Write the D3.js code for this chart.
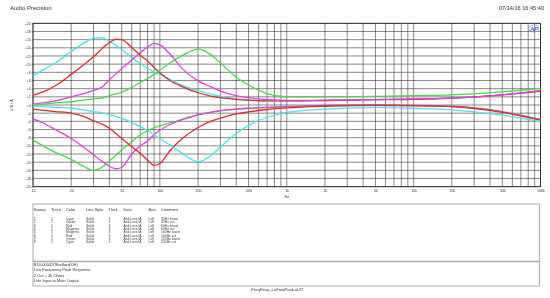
<!DOCTYPE html>
<html>
<head>
<meta charset="utf-8">
<script src="https://cdn.jsdelivr.net/npm/d3@7"></script>
<style>
body { margin: 0; background: #fff; }
svg { display: block; font-family: "Liberation Sans", Arial, sans-serif; }
</style>
</head>
<body>
<svg id="chart" width="550" height="298"></svg>
<script>
// frequencies (Hz) shared by every sweep
const freqs = [10, 12, 15, 20, 25, 30, 35, 40, 45, 50, 60, 70, 80, 90, 100, 120, 150, 200, 250, 300, 400, 500, 700, 1000, 2000, 5000, 10000, 20000, 50000, 100000];

// level in dBrA
const sweep1 = [7.1, 8.6, 10.3, 13.1, 15.1, 16.3, 16.5, 15.6, 14.6, 13.6, 11.6, 10.1, 9.0, 8.1, 7.5, 6.3, 4.8, 3.5, 2.7, 2.1, 1.5, 1.2, 1.0, 1.0, 1.1, 1.3, 1.5, 1.7, 2.5, 3.4];
const sweep2 = [-8.6, -10.0, -11.6, -13.3, -15.0, -16.0, -15.2, -13.7, -12.3, -11.0, -9.0, -7.3, -6.3, -5.6, -5.1, -4.4, -3.6, -2.4, -1.8, -1.4, -1.0, -0.8, -0.6, -0.4, -0.1, 0.0, -0.1, -0.3, -1.6, -3.5];
const sweep3 = [2.4, 3.2, 4.7, 7.5, 9.8, 11.8, 13.8, 15.3, 16.1, 16.0, 14.1, 12.2, 10.8, 9.2, 7.9, 6.0, 4.5, 3.0, 2.2, 1.8, 1.4, 1.2, 1.0, 1.0, 1.1, 1.3, 1.4, 1.7, 2.5, 3.4];
const sweep4 = [-3.4, -4.4, -6.0, -8.2, -10.3, -12.2, -13.8, -15.0, -15.6, -15.3, -12.0, -10.0, -8.8, -7.3, -6.2, -4.8, -3.5, -2.4, -1.8, -1.4, -1.0, -0.8, -0.6, -0.4, -0.1, 0.0, -0.1, -0.3, -1.7, -3.6];
const sweep5 = [0.2, 0.5, 1.0, 2.0, 2.8, 3.6, 4.4, 6.2, 7.6, 8.9, 11.0, 12.8, 14.2, 15.1, 14.7, 12.5, 8.9, 5.9, 4.5, 3.4, 2.3, 1.8, 1.3, 1.1, 1.2, 1.3, 1.5, 1.7, 2.5, 3.5];
const sweep6 = [-1.0, -1.3, -1.6, -2.0, -2.8, -3.9, -4.7, -5.7, -7.0, -8.2, -10.2, -11.8, -13.5, -14.8, -14.3, -11.2, -8.2, -5.5, -4.0, -3.2, -2.2, -1.7, -1.1, -0.7, -0.3, -0.1, -0.2, -0.4, -1.8, -3.7];
const sweep7 = [0.0, 0.2, 0.5, 0.8, 1.2, 1.5, 1.7, 2.3, 2.7, 3.1, 4.3, 5.5, 6.5, 7.5, 8.5, 10.3, 12.1, 13.7, 12.4, 10.3, 6.8, 4.9, 2.8, 2.0, 2.0, 2.1, 2.3, 2.5, 3.2, 4.1];
const sweep8 = [-0.2, -0.4, -0.6, -0.8, -1.2, -1.6, -1.9, -2.4, -2.8, -3.2, -4.3, -5.3, -6.3, -7.3, -8.2, -9.8, -11.8, -13.9, -12.5, -10.3, -7.0, -5.0, -3.0, -1.8, -1.0, -0.6, -0.8, -1.2, -2.5, -4.1];

const sweeps = [sweep1, sweep2, sweep3, sweep4, sweep5, sweep6, sweep7, sweep8];

// legend table
const sweepIds = ["1", "2", "3", "4", "5", "6", "7", "8"];
const traceIds = ["1", "1", "1", "1", "1", "1", "1", "1"];
const colorNames = ["Cyan", "Green", "Red", "Magenta", "Magenta", "Red", "Green", "Cyan"];
const comments = ["35Hz boost", "35Hz cut", "60Hz boost", "60Hz cut", "100Hz boost", "100Hz cut", "220Hz boost", "220Hz cut"];
const tableHeaders = ["Sweep", "Trace", "Color", "Line Style", "Thick", "Data", "Axis", "Comment"];
const notes = ["B10-00042(Shelford/CH)", "Low Frequency Peak Response", "2 Out + 4k Ohms", "Line Input to Main Output"];

// axis ticks
const yTicks = d3.range(-20, 21, 2);
const xTickLabels = [10, 20, 50, 100, 200, 500, 1000, 2000, 5000, 10000, 20000, 50000, 100000];

const palette = {
    Cyan: "#3fe6ee",
    Green: "#45dc45",
    Red: "#e02a2a",
    Magenta: "#e63ce6"
};

const svg = d3.select("#chart");
const margin = { left: 33, right: 540.5, top: 23.3, bottom: 186.7 };

// tiny text gets colour fringes otherwise
svg.append("defs").append("filter").attr("id", "gray")
    .append("feColorMatrix").attr("type", "saturate").attr("values", 0);

const x = d3.scaleLog().domain([10, 100000]).range([margin.left, margin.right]);
const y = d3.scaleLinear().domain([-20, 20]).range([margin.bottom, margin.top]);

const labels = svg.append("g").attr("filter", "url(#gray)");

// header texts
labels.append("text").attr("x", 10).attr("y", 9.5)
    .style("font-size", "6px").style("fill", "#333").text("Audio Precision");
labels.append("text").attr("x", 544).attr("y", 9.5).attr("text-anchor", "end")
    .style("font-size", "5.6px").style("fill", "#333").text("07/14/16 16:45:40");

// grid
const vLines = [];
[10, 100, 1000, 10000].forEach(d => {
    for (let k = 1; k < 10; k++) vLines.push(d * k);
});
vLines.push(100000);

const grid = svg.append("g");
grid.selectAll("line.v")
    .data(vLines)
    .enter()
    .append("line")
    .attr("x1", d => x(d)).attr("x2", d => x(d))
    .attr("y1", margin.top).attr("y2", margin.bottom)
    .attr("stroke", "#3a3a3a").attr("stroke-width", 0.6);

grid.selectAll("line.h")
    .data(yTicks)
    .enter()
    .append("line")
    .attr("x1", margin.left).attr("x2", margin.right)
    .attr("y1", d => y(d)).attr("y2", d => y(d))
    .attr("stroke", "#3a3a3a").attr("stroke-width", 0.6);

svg.append("rect")
    .attr("x", margin.left).attr("y", margin.top)
    .attr("width", margin.right - margin.left).attr("height", margin.bottom - margin.top)
    .attr("fill", "none").attr("stroke", "#222").attr("stroke-width", 0.8);

// axes
const yAxis = labels.append("g")
    .attr("transform", `translate(${margin.left},0)`)
    .call(d3.axisLeft(y).tickValues(yTicks).tickSize(1.5).tickPadding(0.8)
        .tickFormat(d => (d >= 0 ? "+" : "") + d));
yAxis.select(".domain").remove();
yAxis.selectAll("text").style("font-size", "3.4px").style("fill", "#333").attr("font-family", null);
yAxis.selectAll("line").attr("stroke", "#333").attr("stroke-width", 0.5);

const fmtHz = d => d >= 1000 ? (d / 1000) + "k" : String(d);
const xAxis = labels.append("g")
    .attr("transform", `translate(0,${margin.bottom})`)
    .call(d3.axisBottom(x).tickValues(xTickLabels).tickSize(0).tickPadding(2.5).tickFormat(fmtHz));
xAxis.select(".domain").remove();
xAxis.selectAll("text").style("font-size", "3.6px").style("fill", "#333").attr("font-family", null);

labels.append("text").attr("x", x(1000)).attr("y", 198).attr("text-anchor", "middle")
    .style("font-size", "3.8px").style("fill", "#333").text("Hz");
labels.append("text")
    .attr("transform", `translate(13,${y(0)}) rotate(-90)`)
    .attr("text-anchor", "middle")
    .style("font-size", "3.8px").style("fill", "#333").text("d B r A");

// AP logo
const logo = svg.append("g").attr("transform", "translate(534,28.5)");
logo.append("ellipse").attr("rx", 5).attr("ry", 3.6)
    .attr("fill", "none").attr("stroke", "#7a9bd6").attr("stroke-width", 0.6);
logo.append("text").attr("text-anchor", "middle").attr("y", 2)
    .style("font-size", "5.5px").style("font-style", "italic").style("font-weight", 700)
    .style("fill", "#3b69b8").text("AP");

// curves
const line = d3.line()
    .x((d, i) => x(freqs[i]))
    .y(d => y(d))
    .curve(d3.curveMonotoneX);

svg.append("g")
    .selectAll("path")
    .data(sweeps)
    .enter()
    .append("path")
    .attr("d", line)
    .attr("fill", "none")
    .attr("stroke", (d, i) => palette[colorNames[i]])
    .attr("stroke-width", 1.3)
    .attr("stroke-linejoin", "round");

// legend table
const box = svg.append("g").attr("filter", "url(#gray)");
box.append("rect")
    .attr("x", 33).attr("y", 204).attr("width", 506.5).attr("height", 82)
    .attr("fill", "none").attr("stroke", "#999").attr("stroke-width", 0.8);
box.append("line")
    .attr("x1", 33).attr("x2", 539.5).attr("y1", 261.5).attr("y2", 261.5)
    .attr("stroke", "#aaa").attr("stroke-width", 1.6);

const colX = [33.8, 51, 66, 86, 108.5, 123.5, 148.5, 161];
box.selectAll("text.hdr")
    .data(tableHeaders)
    .enter()
    .append("text")
    .attr("x", (d, i) => colX[i]).attr("y", 211)
    .style("font-size", "3.9px").style("fill", "#333")
    .text(d => d);

const rows = sweepIds.map((s, i) => [s, traceIds[i], colorNames[i], "Solid", "3", "Anlr.Level A", "Left", comments[i]]);
const rowG = box.selectAll("g.row")
    .data(rows)
    .enter()
    .append("g")
    .attr("transform", (d, i) => `translate(0,${219.8 + i * 3.38})`);
rowG.selectAll("text")
    .data(d => d)
    .enter()
    .append("text")
    .attr("x", (d, i) => colX[i]).attr("y", 0)
    .style("font-size", "3.4px").style("fill", "#444")
    .text(d => d);

box.selectAll("text.note")
    .data(notes)
    .enter()
    .append("text")
    .attr("x", 33.8).attr("y", (d, i) => 266.3 + i * 5.1)
    .style("font-size", "4px").style("fill", "#333")
    .text(d => d);

box.append("text").attr("x", 303).attr("y", 290.5).attr("text-anchor", "end")
    .style("font-size", "4.1px").style("fill", "#333").text("FreqResp_LoFreqPeak.at27");
</script>
</body>
</html>
